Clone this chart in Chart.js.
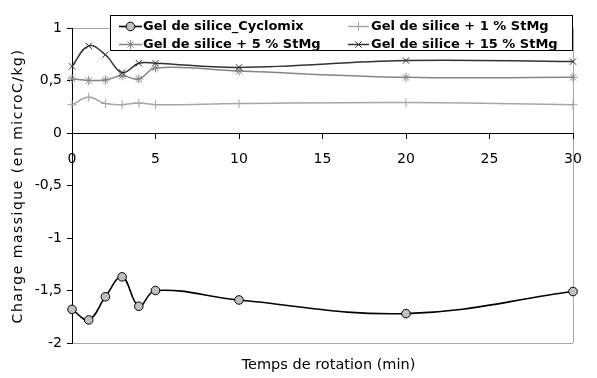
<!DOCTYPE html>
<html>
<head>
<meta charset="utf-8">
<script src="https://cdn.jsdelivr.net/npm/chart.js@4/dist/chart.umd.min.js"></script>
<style>
html,body{margin:0;padding:0;background:#fff;}
#wrap{width:597px;height:378px;position:relative;}
</style>
</head>
<body>
<div id="wrap"><canvas id="c" width="597" height="378"></canvas></div>
<script>
const times = [0, 1, 2, 3, 4, 5, 10, 20, 30];
const cyclomix = [-1.68, -1.78, -1.56, -1.37, -1.65, -1.50, -1.59, -1.72, -1.51];
const stmg1 = [0.27, 0.34, 0.28, 0.27, 0.285, 0.27, 0.28, 0.29, 0.27];
const stmg5 = [0.515, 0.50, 0.505, 0.545, 0.515, 0.62, 0.59, 0.53, 0.53];
const stmg15 = [0.635, 0.83, 0.745, 0.575, 0.665, 0.665, 0.625, 0.69, 0.68];
const seriesNames = ['Gel de silice_Cyclomix', 'Gel de silice + 1 % StMg', 'Gel de silice + 5 % StMg', 'Gel de silice + 15 % StMg'];
const xTitle = 'Temps de rotation (min)';
const yTitle = 'Charge massique (en microC/kg)';

const FONT = 'DejaVu Sans';
const toPts = arr => arr.map((v, i) => ({x: times[i], y: v}));

const styles = [
  {color: '#000000', marker: 'circle', fill: '#c0c0c0', r: 4.3, w: 1.6},
  {color: '#a6a6a6', marker: 'cross', fill: '#a6a6a6', r: 4.5, w: 1.5},
  {color: '#858585', marker: 'star', fill: '#858585', r: 4.5, w: 1.5},
  {color: '#333333', marker: 'crossRot', fill: '#333333', r: 4.5, w: 1.5}
];
const values = [cyclomix, stmg1, stmg5, stmg15];

const datasets = values.map((v, i) => ({
  label: seriesNames[i],
  data: toPts(v),
  borderColor: styles[i].color,
  backgroundColor: styles[i].fill,
  borderWidth: styles[i].w,
  tension: 0.4,
  pointStyle: styles[i].marker,
  pointRadius: styles[i].r,
  pointBorderColor: i === 0 ? '#000000' : styles[i].color,
  pointBackgroundColor: styles[i].fill,
  pointBorderWidth: 1,
  clip: false
})).reverse();

function drawMarker(ctx, style, x, y, r, stroke, fill) {
  ctx.save();
  ctx.strokeStyle = stroke; ctx.fillStyle = fill; ctx.lineWidth = 1;
  ctx.beginPath();
  if (style === 'circle') {
    ctx.arc(x, y, r, 0, Math.PI * 2); ctx.fill(); ctx.stroke();
  } else {
    if (style === 'cross' || style === 'star') {
      ctx.moveTo(x - r, y); ctx.lineTo(x + r, y);
      ctx.moveTo(x, y - r); ctx.lineTo(x, y + r);
    }
    if (style === 'crossRot' || style === 'star') {
      const d = r * Math.SQRT1_2;
      ctx.moveTo(x - d, y - d); ctx.lineTo(x + d, y + d);
      ctx.moveTo(x - d, y + d); ctx.lineTo(x + d, y - d);
    }
    ctx.stroke();
  }
  ctx.restore();
}

const decorPlugin = {
  id: 'decor',
  afterDraw(chart) {
    const ctx = chart.ctx;
    const area = chart.chartArea;
    // legend box
    const box = {x: 110.5, y: 15.5, w: 462, h: 35};
    ctx.save();
    ctx.fillStyle = '#ffffff';
    ctx.fillRect(box.x, box.y, box.w, box.h);
    ctx.strokeStyle = '#000000'; ctx.lineWidth = 1;
    ctx.strokeRect(box.x, box.y, box.w, box.h);
    const cols = [{l0: 119, l1: 142, tx: 143}, {l0: 348, l1: 369, tx: 371}];
    const rows = [26.5, 44.5];
    ctx.font = 'bold 13px "' + FONT + '"';
    ctx.textBaseline = 'middle';
    ctx.textAlign = 'left';
    seriesNames.forEach((name, i) => {
      const c = cols[i % 2], ry = rows[Math.floor(i / 2)];
      const s = styles[i];
      ctx.strokeStyle = s.color; ctx.lineWidth = s.w;
      ctx.beginPath(); ctx.moveTo(c.l0, ry); ctx.lineTo(c.l1, ry); ctx.stroke();
      drawMarker(ctx, s.marker, (c.l0 + c.l1) / 2, ry, s.r, i === 0 ? '#000' : s.color, s.fill);
      ctx.fillStyle = '#000';
      ctx.fillText(name, c.tx, ry + 0.5);
    });
    // x axis title
    ctx.font = '14.5px "' + FONT + '"';
    ctx.textAlign = 'center';
    ctx.fillStyle = '#000';
    ctx.fillText(xTitle, (area.left + area.right) / 2 + 6, 365);
    // y axis title
    ctx.translate(18, 186);
    ctx.rotate(-Math.PI / 2);
    ctx.textAlign = 'center';
    ctx.font = '14px "' + FONT + '"';
    if ('letterSpacing' in ctx) ctx.letterSpacing = '1.5px';
    ctx.fillText(yTitle, 0, 0);
    ctx.restore();
  }
};

const fmt = v => String(v).replace('.', ',');

new Chart(document.getElementById('c'), {
  type: 'line',
  data: {datasets},
  options: {
    responsive: false,
    animation: false,
    devicePixelRatio: 1,
    layout: {padding: {left: 0, right: 24, top: 28, bottom: 35}},
    plugins: {
      legend: {display: false},
      tooltip: {enabled: false},
      title: {display: false}
    },
    scales: {
      x: {
        type: 'linear', min: 0, max: 30,
        position: {y: 0},
        ticks: {stepSize: 5, color: '#000', font: {family: FONT, size: 14}, padding: 13, maxRotation: 0,
          callback: v => fmt(v)},
        grid: {
          drawOnChartArea: true,
          color: c => (c.tick && c.tick.value === 30) ? '#a6a6a6' : 'rgba(0,0,0,0)',
          tickColor: '#000', tickLength: 5, lineWidth: 1
        },
        border: {display: true, color: '#000', width: 1}
      },
      y: {
        type: 'linear', min: -2, max: 1,
        position: 'left',
        afterFit: s => { s.width = 72; },
        ticks: {stepSize: 0.5, color: '#000', font: {family: FONT, size: 14}, padding: 5,
          callback: v => fmt(v)},
        grid: {
          drawOnChartArea: true,
          color: c => (c.tick && (c.tick.value === 1 || c.tick.value === -2)) ? '#a6a6a6' : 'rgba(0,0,0,0)',
          tickColor: '#000', tickLength: 5, lineWidth: 1
        },
        border: {display: true, color: '#000', width: 1},
        title: {display: false}
      }
    }
  },
  plugins: [decorPlugin]
});
</script>
</body>
</html>
